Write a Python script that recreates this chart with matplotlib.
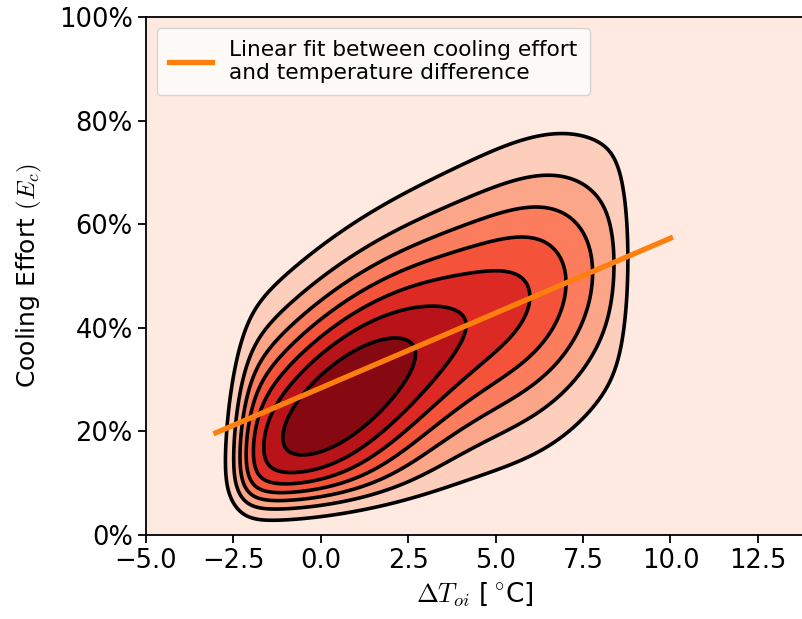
import numpy as np
import matplotlib
matplotlib.use("Agg")
import matplotlib.pyplot as plt
from matplotlib.ticker import PercentFormatter

# Joint density of temperature difference (x) and cooling effort (y),
# described as a sum of correlated Gaussian components placed along
# the ridge of the distribution (left body, centre body, right tail)
comp_dt = [-0.3, 3.5, 6.5]
comp_ec = [0.209, 0.38, 0.465]
comp_sdt = [3.0, 3.0, 1.8]
comp_sec = [0.2055, 0.1924, 0.1836]
comp_rho = [0.657, 0.468, 0.245]
comp_amp = [0.62, 0.28, 0.22]

# Support limits of the observations (soft edges)
dt_low, dt_low_edge = -2.38, 0.27
dt_high, dt_high_edge = 8.85, 0.2
ec_low, ec_edge = 0.061, 0.026

# Linear fit of cooling effort against temperature difference
fit_x = [-3.0, 10.0]
fit_slope = 0.0289
fit_intercept = 0.284

# Contour levels as fractions of the peak density
level_fracs = np.linspace(0, 1, 9)

xlim = (-5.0, 13.79)
ylim = (0.0, 1.0)
xticks = [-5.0, -2.5, 0.0, 2.5, 5.0, 7.5, 10.0, 12.5]
yticks = [0.0, 0.2, 0.4, 0.6, 0.8, 1.0]

gx = np.linspace(xlim[0], xlim[1], 500)
gy = np.linspace(ylim[0], ylim[1], 500)
X, Y = np.meshgrid(gx, gy)

Z = np.zeros_like(X)
for mx, my, sx, sy, r, a in zip(comp_dt, comp_ec, comp_sdt, comp_sec, comp_rho, comp_amp):
    u = (X - mx) / sx
    v = (Y - my) / sy
    q = (u * u - 2 * r * u * v + v * v) / (1 - r * r)
    Z += a * np.exp(-0.5 * q)
Z *= 1 / (1 + np.exp(-(X - dt_low) / dt_low_edge))
Z *= 1 / (1 + np.exp((X - dt_high) / dt_high_edge))
Z *= 1 / (1 + np.exp(-(Y - ec_low) / ec_edge))

levels = level_fracs * Z.max()

fig = plt.figure(figsize=(8.03, 6.19), dpi=100)
ax = fig.add_axes([146 / 803, 84 / 619, 1 - 146 / 803, (535 - 17) / 619])

ax.contourf(X, Y, Z, levels=levels, cmap="Reds")
ax.contour(X, Y, Z, levels=levels[1:-1], colors="black", linewidths=2.6)

fx = np.array(fit_x)
ax.plot(fx, fit_intercept + fit_slope * fx, color="#ff7f0e", lw=3.8,
        label="Linear fit between cooling effort\nand temperature difference")

ax.set_xlim(*xlim)
ax.set_ylim(*ylim)
ax.set_xticks(xticks)
ax.set_yticks(yticks)
ax.yaxis.set_major_formatter(PercentFormatter(1.0, decimals=0))
ax.tick_params(labelsize=18.5, width=1.3, length=6)
for s in ax.spines.values():
    s.set_linewidth(1.3)

ax.set_xlabel(r"$\Delta T_{oi}$ [$\,^{\circ}$C]", fontsize=19, math_fontfamily="cm")
ax.set_ylabel(r"Cooling Effort $(E_c)$", fontsize=18, math_fontfamily="cm",
              labelpad=11)

ax.legend(loc="upper left", fontsize=15.6, handlelength=2.0, borderpad=0.55)

fig.savefig("out.png", dpi=100)
